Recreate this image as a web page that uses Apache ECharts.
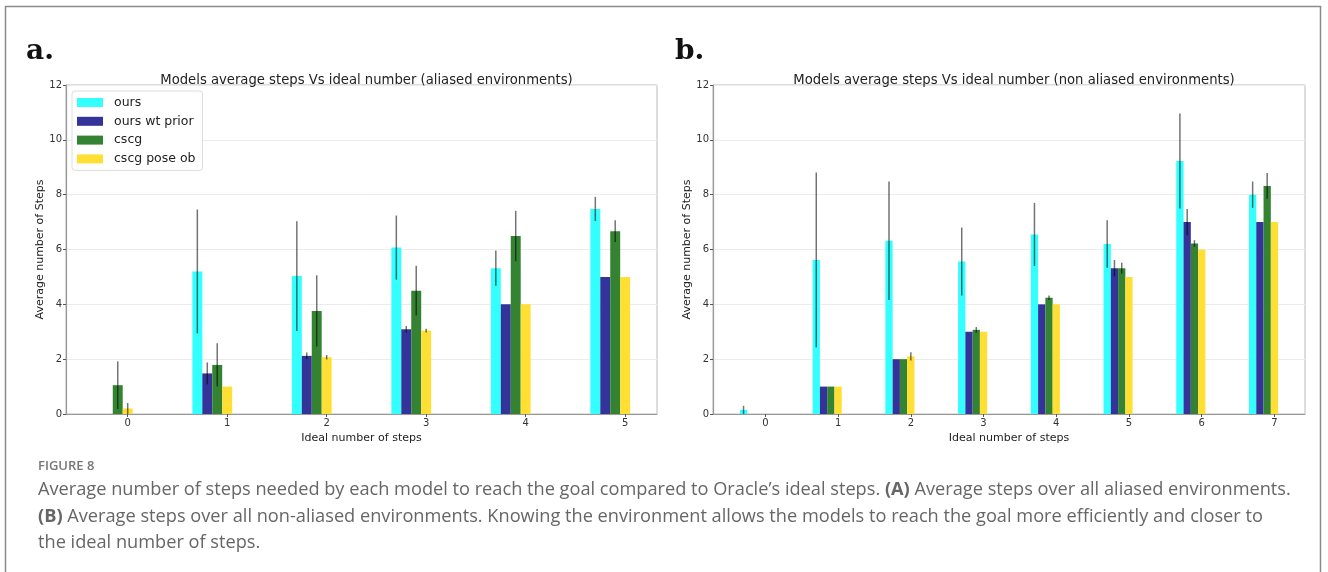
<!DOCTYPE html>
<html>
<head>
<meta charset="utf-8">
<script src="https://cdn.jsdelivr.net/npm/echarts@6/dist/echarts.min.js"></script>
<style>
html,body{margin:0;padding:0;background:#fff;}
#chart{width:1328px;height:572px;}
</style>
</head>
<body>
<div id="chart"></div>
<script>
// ---------- DATA ----------
const seriesNames = ['ours', 'ours wt prior', 'cscg', 'cscg pose ob'];

// Panel a: aliased environments
const catsA = [0, 1, 2, 3, 4, 5];
const oursA      = [0,    5.2,  5.03, 6.07, 5.32, 7.48];
const oursErrA   = [0,    2.26, 2.0,  1.17, 0.64, 0.44];
const priorA     = [0,    1.48, 2.12, 3.09, 4.0,  5.0];
const priorErrA  = [0,    0.4,  0.12, 0.12, 0,    0];
const cscgA      = [1.05, 1.79, 3.76, 4.5,  6.49, 6.67];
const cscgErrA   = [0.87, 0.79, 1.3,  0.91, 0.92, 0.4];
const poseA      = [0.2,  1.0,  2.07, 3.04, 4.0,  5.0];
const poseErrA   = [0.2,  0,    0.08, 0.07, 0,    0];

// Panel b: non aliased environments
const catsB = [0, 1, 2, 3, 4, 5, 6, 7];
const oursB      = [0.15, 5.62, 6.32, 5.56, 6.55, 6.2,  9.23, 8.0];
const oursErrB   = [0.15, 3.19, 2.16, 1.24, 1.15, 0.87, 1.73, 0.48];
const priorB     = [0,    1.0,  2.0,  3.0,  4.0,  5.32, 7.0,  7.0];
const priorErrB  = [0,    0,    0,    0,    0,    0.3,  0.48, 0];
const cscgB      = [0,    1.0,  2.0,  3.07, 4.24, 5.32, 6.22, 8.32];
const cscgErrB   = [0,    0,    0,    0.1,  0.08, 0.2,  0.12, 0.47];
const poseB      = [0,    1.0,  2.1,  3.0,  4.0,  5.0,  6.0,  7.0];
const poseErrB   = [0,    0,    0.15, 0,    0,    0,    0,    0];

const yTicks = [0, 2, 4, 6, 8, 10, 12];
const titleA = 'Models average steps Vs ideal number (aliased environments)';
const titleB = 'Models average steps Vs ideal number (non aliased environments)';
const xName = 'Ideal number of steps';
const yName = 'Average number of Steps';

// ---------- STYLE ----------
const colors = ['#33ffff', '#333399', '#338333', '#ffdf33'];
const offsets = [-0.3, -0.2, -0.1, 0];
const BW = 0.1;
const FONT = 'DejaVu Sans';

function rows(cats, vals, errs) {
  return cats.map((c, i) => [c, vals[i], errs[i]]);
}

function makeRender(offset, color) {
  return function (params, api) {
    const x = api.value(0) + offset;
    const v = api.value(1);
    const e = api.value(2);
    const p0 = api.coord([x - BW / 2, v]);
    const p1 = api.coord([x + BW / 2, 0]);
    const children = [];
    if (v > 0) {
      children.push({
        type: 'rect',
        shape: { x: p0[0], y: p0[1], width: p1[0] - p0[0], height: p1[1] - p0[1] },
        style: { fill: color }
      });
    }
    if (e > 0) {
      const a = api.coord([x, v - e]);
      const b = api.coord([x, v + e]);
      children.push({
        type: 'line',
        shape: { x1: a[0], y1: a[1], x2: b[0], y2: b[1] },
        style: { stroke: 'rgba(0,0,0,0.55)', lineWidth: 1.5 },
        z2: 10
      });
    }
    return { type: 'group', children: children };
  };
}

const panelData = [
  [rows(catsA, oursA, oursErrA), rows(catsA, priorA, priorErrA), rows(catsA, cscgA, cscgErrA), rows(catsA, poseA, poseErrA)],
  [rows(catsB, oursB, oursErrB), rows(catsB, priorB, priorErrB), rows(catsB, cscgB, cscgErrB), rows(catsB, poseB, poseErrB)]
];

const series = [];
panelData.forEach((pd, pi) => {
  pd.forEach((d, si) => {
    series.push({
      type: 'custom',
      name: seriesNames[si],
      xAxisIndex: pi,
      yAxisIndex: pi,
      itemStyle: { color: colors[si] },
      encode: { x: 0, y: 1 },
      renderItem: makeRender(offsets[si], colors[si]),
      data: d
    });
  });
});

function xAxis(gi, cats, min, max) {
  return {
    type: 'value', gridIndex: gi, min: min, max: max,
    name: xName, nameLocation: 'middle', nameGap: 14,
    nameTextStyle: { fontFamily: FONT, fontSize: 11, color: '#222' },
    axisLine: { show: true, onZero: false, lineStyle: { color: '#999', width: 1.2 } },
    axisTick: { show: true, length: 3, customValues: cats, lineStyle: { color: '#555' } },
    axisLabel: { customValues: cats, fontFamily: FONT, fontSize: 10, color: '#333', margin: 4 },
    splitLine: { show: false }
  };
}
function yAxis(gi) {
  return {
    type: 'value', gridIndex: gi, min: 0, max: 12, interval: 2,
    name: yName, nameLocation: 'middle', nameGap: 20, nameRotate: 90,
    nameTextStyle: { fontFamily: FONT, fontSize: 11, color: '#222' },
    axisLine: { show: true, onZero: false, lineStyle: { color: '#999', width: 1.2 } },
    axisTick: { show: true, length: 3, lineStyle: { color: '#555' } },
    axisLabel: { fontFamily: FONT, fontSize: 10, color: '#333', margin: 4,
      customValues: yTicks },
    splitLine: { show: true, lineStyle: { color: '#ececec', width: 1 } }
  };
}

const captionColor = '#666';
const CAP = 18.2;
const option = {
  backgroundColor: '#fff',
  animation: false,
  title: [
    { text: titleA, left: 361.5, top: 69, textAlign: 'center',
      textStyle: { fontFamily: FONT, fontSize: 13.2, fontWeight: 'normal', color: '#222' } },
    { text: titleB, left: 1009, top: 69, textAlign: 'center',
      textStyle: { fontFamily: FONT, fontSize: 13.2, fontWeight: 'normal', color: '#222' } }
  ],
  legend: {
    data: seriesNames,
    orient: 'vertical',
    left: 72, top: 91,
    icon: 'rect',
    itemWidth: 26, itemHeight: 9, itemGap: 5.8,
    padding: [5, 7, 5, 5],
    backgroundColor: '#fff',
    borderColor: '#dddddd', borderWidth: 1, borderRadius: 3,
    textStyle: { fontFamily: FONT, fontSize: 12.5, color: '#222', padding: [0, 0, 0, 6] },
    selectedMode: false
  },
  grid: [
    { left: 66, top: 85, width: 591, height: 329, show: true, borderColor: '#bbb', borderWidth: 1, backgroundColor: 'transparent' },
    { left: 713, top: 85, width: 592, height: 329, show: true, borderColor: '#bbb', borderWidth: 1, backgroundColor: 'transparent' }
  ],
  xAxis: [xAxis(0, catsA, -0.62, 5.32), xAxis(1, catsB, -0.72, 7.42)],
  yAxis: [yAxis(0), yAxis(1)],
  series: series,
  graphic: [
    { type: 'rect', shape: { x: 5.5, y: 6.5, width: 1315, height: 600 },
      style: { fill: 'none', stroke: '#8a8a8a', lineWidth: 1.5 }, silent: true, z: -10 },
    { type: 'text', left: 26, top: 38,
      style: { text: 'a.', font: 'bold 28px "DejaVu Serif"', fill: '#111' } },
    { type: 'text', left: 675, top: 38,
      style: { text: 'b.', font: 'bold 28px "DejaVu Serif"', fill: '#111' } },
    { type: 'text', left: 38, top: 460,
      style: { text: 'FIGURE 8', font: '600 13px "Open Sans"', fill: '#777' } },
    { type: 'text', left: 38, top: 481,
      style: {
        text: 'Average number of steps needed by each model to reach the goal compared to Oracle\u2019s ideal steps. {b|(A)} Average steps over all aliased environments.',
        font: CAP + 'px "Open Sans"', fill: captionColor,
        rich: { b: { font: 'bold ' + CAP + 'px "Open Sans"', fill: captionColor } }
      } },
    { type: 'text', left: 38, top: 508,
      style: {
        text: '{b|(B)} Average steps over all non-aliased environments. Knowing the environment allows the models to reach the goal more efficiently and closer to',
        font: CAP + 'px "Open Sans"', fill: captionColor,
        rich: { b: { font: 'bold ' + CAP + 'px "Open Sans"', fill: captionColor } }
      } },
    { type: 'text', left: 38, top: 534,
      style: { text: 'the ideal number of steps.', font: CAP + 'px "Open Sans"', fill: captionColor } }
  ]
};

const chart = echarts.init(document.getElementById('chart'), null, { renderer: 'canvas' });
chart.setOption(option);
</script>
</body>
</html>
